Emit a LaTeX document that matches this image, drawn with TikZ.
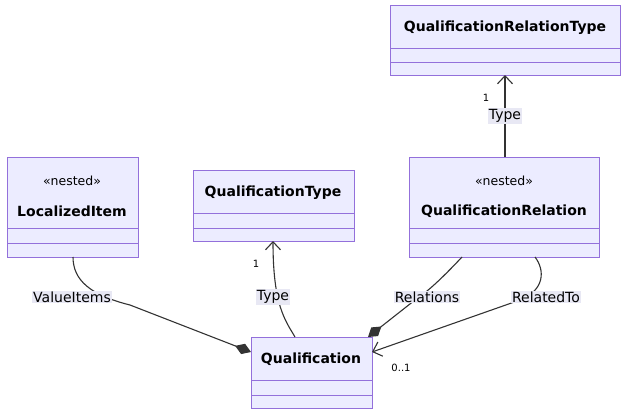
\documentclass[tikz,border=0pt]{standalone}
\usepackage{fontspec}
\setmainfont{DejaVu Sans}
\usetikzlibrary{arrows.meta}
\definecolor{bfill}{HTML}{ECECFF}
\definecolor{bline}{HTML}{9370DB}
\definecolor{lbg}{HTML}{E8E8F4}
\tikzset{
  cls/.style={draw=bline,fill=bfill,line width=1pt},
  sep/.style={draw=bline,line width=1pt},
  ttl/.style={font=\bfseries\fontsize{14}{16}\selectfont,inner sep=0pt},
  ster/.style={font=\fontsize{12.5}{15}\selectfont,inner sep=0pt},
  lbl/.style={fill=lbg,font=\fontsize{14}{16}\selectfont,inner sep=1pt},
  card/.style={font=\fontsize{10}{12}\selectfont,inner sep=0pt},
  edge/.style={draw=black!80,line width=1.1pt},
  arr/.style={-{Straight Barb[length=8pt,width=15pt]}},
  dia/.style={-{Diamond[length=17pt,width=11pt]}}
}
\begin{document}
\begin{tikzpicture}[x=1pt,y=-1pt]
\useasboundingbox (0,0) rectangle (628,418);
\newcommand{\clsbox}[6]{%
  \path[cls] (#1,#2) rectangle (#3,#4);
  \draw[sep] (#1,#5) -- (#3,#5);
  \draw[sep] (#1,#6) -- (#3,#6);}
\clsbox{390}{5}{620}{75}{48}{62}
\node[ttl] (qrt) at (505,28) {QualificationRelationType};
\clsbox{7}{157}{138}{257}{228}{243}
\node[ster] (lis) at (72,181) {«nested»};
\node[ttl] (li) at (72,211) {LocalizedItem};
\clsbox{193}{170}{354}{241}{213}{228}
\node[ttl] (qt) at (273,193) {QualificationType};
\clsbox{409}{157}{599}{257}{228}{243}
\node[ster] (qrs) at (504,181) {«nested»};
\node[ttl] (qr) at (504,211) {QualificationRelation};
\clsbox{251}{337}{372}{408}{380}{395}
\node[ttl] (q) at (311,359) {Qualification};
\coordinate (liB) at (73,257);
\coordinate (qL) at (251,352);
\coordinate (qT) at (295,337);
\coordinate (qtB) at (273,241);
\coordinate (qTR) at (368,337);
\coordinate (qR) at (372,352);
\coordinate (qrB1) at (462,257);
\coordinate (qrB2) at (535,257);
\coordinate (qrT) at (505,157);
\coordinate (qrtB) at (505,75);
\draw[edge,dia] (liB) .. controls (73,280) and (90,295) .. (130,305) -- (qL);
\draw[edge,arr] (qT) .. controls (285,320) and (273,305) .. (qtB);
\draw[edge,dia] (qrB1) .. controls (445,275) and (430,290) .. (415,300) -- (qTR);
\draw[edge,arr] (qrB2) .. controls (545,270) and (545,290) .. (520,300) -- (qR);
\draw[edge,arr] (qrT) -- (qrtB);
\node[lbl] (l1) at (72,297) {ValueItems};
\node[lbl] (l2) at (273,297) {Type};
\node[lbl] (l3) at (427,297) {Relations};
\node[lbl] (l4) at (546,297) {RelatedTo};
\node[lbl] (l5) at (505,116) {Type};
\node[card] (c1) at (256,264) {1};
\node[card] (c2) at (401,368) {0..1};
\node[card] (c3) at (486,98) {1};
\end{tikzpicture}
\end{document}
